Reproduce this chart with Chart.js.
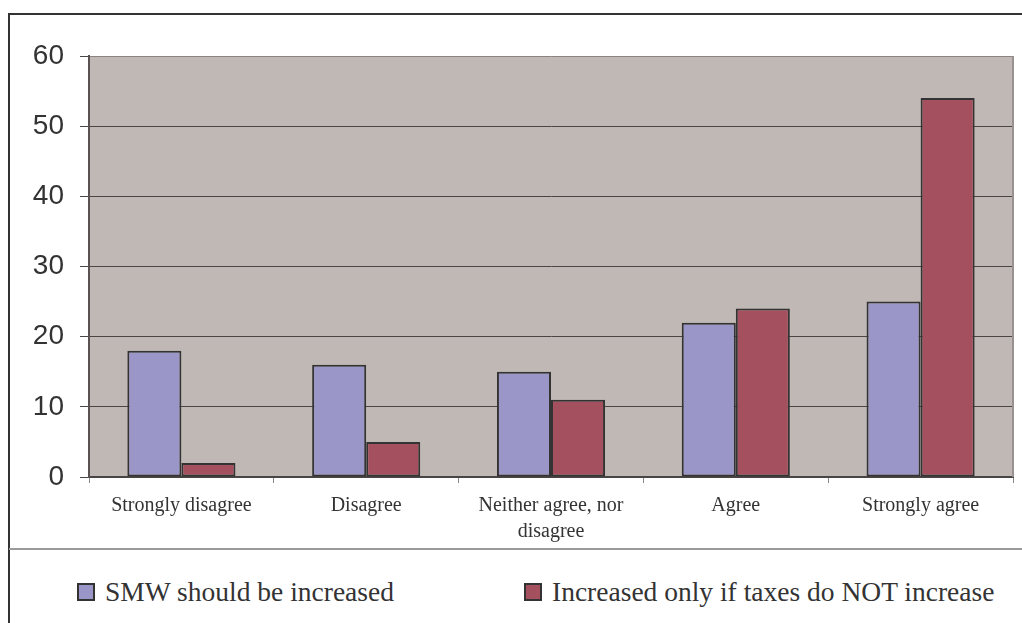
<!DOCTYPE html>
<html>
<head>
<meta charset="utf-8">
<script src="https://cdn.jsdelivr.net/npm/chart.js@4/dist/chart.umd.min.js"></script>
<style>
  html, body { margin: 0; padding: 0; width: 1022px; height: 623px; overflow: hidden; background: #fff; }
  #frame { position: absolute; left: 8px; top: 13px; width: 1100px; height: 700px; border: 2px solid #333; box-sizing: border-box; }
  #sep { position: absolute; left: 9px; top: 548px; width: 1013px; height: 0; border-top: 2px solid #9a9a9a; }
  #chart { position: absolute; left: 0; top: 0; }
  .lg { position: absolute; top: 574px; height: 36px; display: flex; align-items: center; font-family: 'Liberation Serif', 'Times New Roman', serif; font-size: 27.5px; color: #333; white-space: nowrap; }
  .lg .box { width: 18px; height: 18px; box-sizing: border-box; border: 2px solid #333; margin-right: 10px; }
</style>
</head>
<body>
<div id="frame"></div>
<div id="sep"></div>
<canvas id="chart" width="1022" height="545"></canvas>
<div id="legend"></div>
<script>
const categories = ['Strongly disagree', 'Disagree', ['Neither agree, nor', 'disagree'], 'Agree', 'Strongly agree'];
const seriesNames = ['SMW should be increased', 'Increased only if taxes do NOT increase'];
const smwIncreased = [18, 16, 15, 22, 25];
const onlyIfNoTax = [2, 5, 11, 24, 54];
const yTicks = [0, 10, 20, 30, 40, 50, 60];

const colors = ['#9B96C8', '#A5505F'];
const legendX = [77, 524];

const bgPlugin = {
  id: 'plotBg',
  beforeDraw(chart) {
    const a = chart.chartArea, c = chart.ctx;
    c.save();
    c.fillStyle = '#C0B8B5';
    c.fillRect(a.left, a.top, a.right - a.left, a.bottom - a.top);
    c.restore();
  },
  afterDraw(chart) {
    const a = chart.chartArea, c = chart.ctx;
    c.save();
    c.strokeStyle = '#9a9090';
    c.lineWidth = 2;
    c.beginPath();
    c.moveTo(a.right, a.top);
    c.lineTo(a.right, a.bottom);
    c.stroke();
    c.restore();
  }
};

new Chart(document.getElementById('chart'), {
  type: 'bar',
  data: {
    labels: categories,
    datasets: [
      { label: seriesNames[0], data: smwIncreased, backgroundColor: colors[0], borderColor: '#333', borderWidth: 2, borderSkipped: false },
      { label: seriesNames[1], data: onlyIfNoTax, backgroundColor: colors[1], borderColor: '#333', borderWidth: 2, borderSkipped: false }
    ]
  },
  plugins: [bgPlugin],
  options: {
    responsive: false,
    devicePixelRatio: 1,
    animation: false,
    layout: { padding: { left: 0, right: 9, top: 56, bottom: 0 } },
    datasets: { bar: { categoryPercentage: 0.585, barPercentage: 1.0 } },
    plugins: { legend: { display: false }, tooltip: { enabled: false } },
    scales: {
      x: {
        grid: { display: true, drawOnChartArea: false, offset: true, tickLength: 6, tickColor: '#888', lineWidth: 1 },
        border: { display: true, color: '#4a4545', width: 2 },
        ticks: { color: '#333', padding: 10, font: { family: "'Liberation Serif', 'Times New Roman', serif", size: 20, lineHeight: 1.3 }, maxRotation: 0, autoSkip: false },
        afterFit(scale) { scale.height = 68; }
      },
      y: {
        min: 0, max: 60,
        afterBuildTicks(scale) { scale.ticks = yTicks.map(v => ({ value: v })); },
        grid: {
          color: ctx => (ctx.tick && ctx.tick.value === 60) ? '#8c8280' : '#4a4545',
          tickColor: '#4a4545', tickLength: 9, lineWidth: 1
        },
        border: { display: true, color: '#5a5252', width: 2 },
        ticks: { color: '#333', padding: 16, font: { family: "'Liberation Sans', Arial, sans-serif", size: 28 } },
        afterFit(scale) { scale.width = 89; }
      }
    }
  }
});

const lg = document.getElementById('legend');
seriesNames.forEach((name, i) => {
  const d = document.createElement('div');
  d.className = 'lg';
  d.style.left = legendX[i] + 'px';
  const b = document.createElement('span');
  b.className = 'box';
  b.style.background = colors[i];
  const t = document.createElement('span');
  t.textContent = name;
  d.appendChild(b); d.appendChild(t);
  lg.appendChild(d);
});
</script>
</body>
</html>
